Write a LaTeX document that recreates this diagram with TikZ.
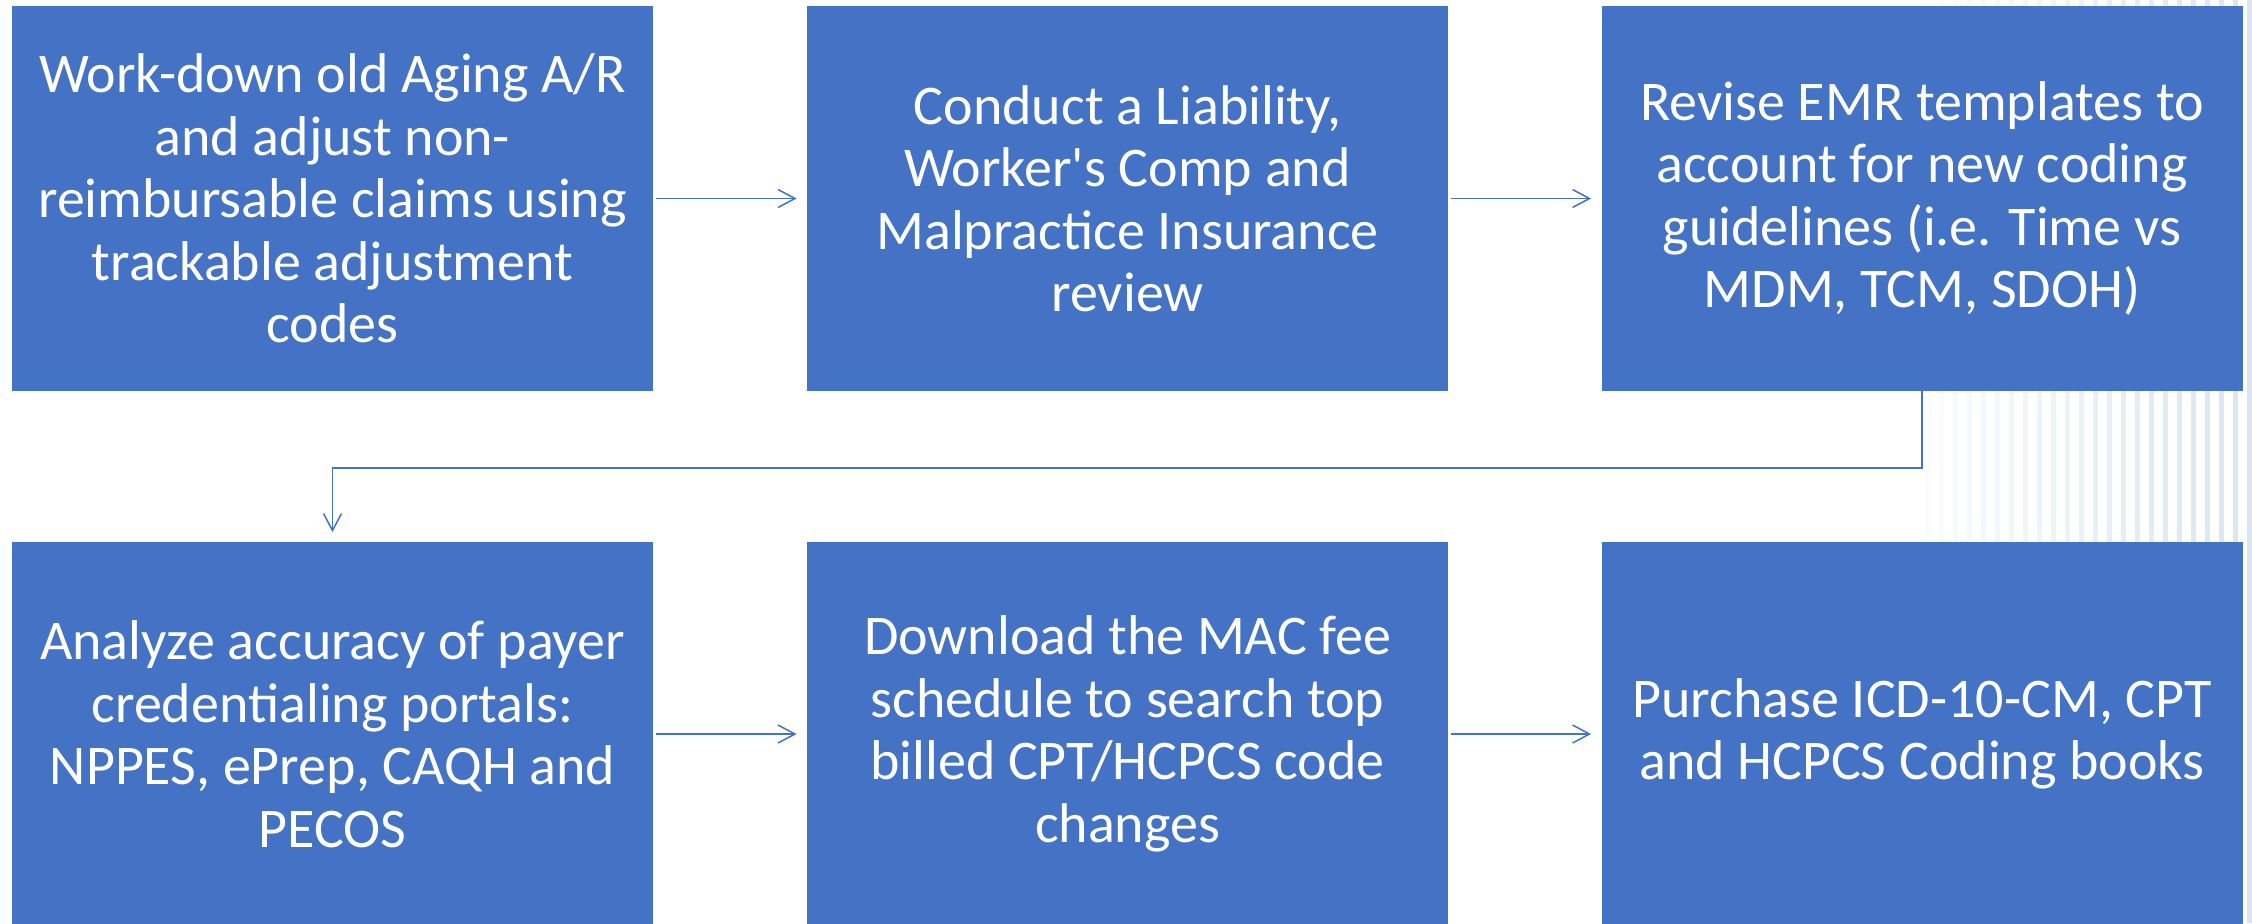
\documentclass[tikz,border=0pt]{standalone}
\usepackage{fontspec}
\newfontfamily\boxfont{Carlito}
\usetikzlibrary{arrows.meta}
\definecolor{boxblue}{HTML}{4472C4}
\definecolor{stripe}{HTML}{C9DAE8}
\tikzset{
  stepbox/.style={rectangle, fill=boxblue, draw=none, minimum width=320.5pt, minimum height=192.5pt,
    inner sep=0pt, text=white, align=center,
    font=\boxfont\fontsize{28pt}{31.25pt}\selectfont},
  flow/.style={draw=boxblue, line width=0.75pt, -{Straight Barb[length=8.5pt,width=9pt,line width=0.75pt]}}
}
\begin{document}
\begin{tikzpicture}[x=0.5pt,y=-0.5pt]
\useasboundingbox (0,0) rectangle (2252,923);
\clip (0,0) rectangle (2252,923);
\fill[white] (0,0) rectangle (2252,923);
% faint striped background on the right
\foreach \i in {0,...,23}{
  \pgfmathsetmacro{\op}{0.08+0.6*\i/23}
  \fill[stripe, opacity=\op] ({1925+14*\i},0) rectangle ({1930+14*\i},923);
}
\node[stepbox] (b1) at (332.5,198.5) {Work-down old Aging A/R\\and adjust non-\\reimbursable claims using\\trackable adjustment\\codes};
\node[stepbox] (b2) at (1127.5,198.5) {Conduct a Liability,\\Worker's Comp and\\Malpractice Insurance\\review};
\node[stepbox] (b3) at (1922,198.5) {Revise EMR templates to\\account for new coding\\guidelines (i.e. Time vs\\MDM, TCM, SDOH)};
\node[stepbox] (b4) at (332.5,734) {Analyze accuracy of payer\\credentialing portals:\\NPPES, ePrep, CAQH and\\PECOS};
\node[stepbox] (b5) at (1127.5,734) {Download the MAC fee\\schedule to search top\\billed CPT/HCPCS code\\changes};
\node[stepbox] (b6) at (1922,734) {Purchase ICD-10-CM, CPT\\and HCPCS Coding books};
\draw[flow, shorten <=1.5pt, shorten >=5pt] (b1.east) -- (b2.west);
\draw[flow, shorten <=1.5pt, shorten >=5pt] (b2.east) -- (b3.west);
\draw[flow, shorten <=1.5pt, shorten >=5pt] (b4.east) -- (b5.west);
\draw[flow, shorten <=1.5pt, shorten >=5pt] (b5.east) -- (b6.west);
\coordinate (mid) at (0,468);
\draw[flow, shorten >=4.5pt] (b3.south) |- (b3.south |- mid) -| (b4.north);
\end{tikzpicture}
\end{document}
